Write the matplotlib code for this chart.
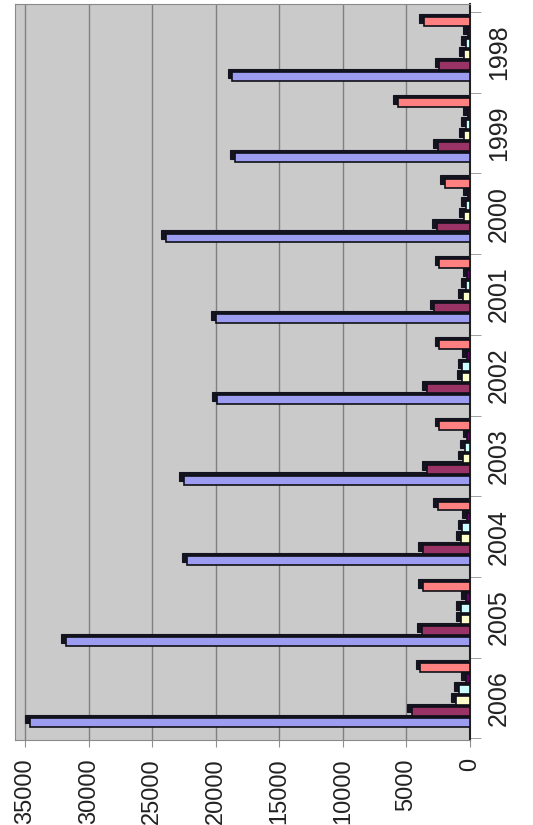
import matplotlib.pyplot as plt
import numpy as np

plt.rcParams['font.family'] = ['Liberation Sans', 'DejaVu Sans']

# categories (top to bottom of the rotated chart)
anos = ['1998', '1999', '2000', '2001', '2002', '2003', '2004', '2005', '2006']

# series values
serie1 = [18700, 18500, 23900, 20000, 19900, 22500, 22300, 31800, 34600]
serie2 = [2400, 2500, 2600, 2800, 3400, 3400, 3700, 3800, 4600]
serie3 = [450, 450, 450, 550, 650, 550, 700, 700, 1100]
serie4 = [350, 350, 300, 350, 600, 400, 600, 700, 900]
serie5 = [150, 150, 150, 200, 250, 200, 250, 300, 350]
serie6 = [3600, 5700, 2000, 2400, 2400, 2400, 2500, 3700, 3900]

series = [serie1, serie2, serie3, serie4, serie5, serie6]
cores = ['#9c9cf0', '#993366', '#ffffcc', '#ccffff', '#660066', '#ff8080']

fig = plt.figure(figsize=(5.33, 8.25), dpi=100)
ax = fig.add_axes([15 / 533, 1 - 740 / 825, 455 / 533, 736 / 825])
ax.set_facecolor('#cacaca')

y = np.arange(len(anos))
passo = 0.136
altura = 0.11

# sombras (efeito 3D) primeiro, depois as faces
for k, vals in enumerate(series):
    pos = y + (2.5 - k) * passo - 0.04
    ax.barh(pos - 0.04, np.array(vals) + 380, height=altura, color='#141420',
            edgecolor='#141420', linewidth=0.8, zorder=2)
for k, vals in enumerate(series):
    pos = y + (2.5 - k) * passo - 0.04
    ax.barh(pos, vals, height=altura, color=cores[k], edgecolor='#101018',
            linewidth=1.2, zorder=3)

ax.set_xlim(35800, 0)
ax.set_ylim(8.52, -0.6)

ax.set_xticks(np.arange(0, 35001, 5000))
ax.set_xticklabels([str(v) for v in range(0, 35001, 5000)], rotation=90,
                   fontsize=17, color='#222222')
ax.grid(axis='x', color='#808080', linewidth=1.0, zorder=1)
ax.set_axisbelow(True)

ax.yaxis.tick_right()
ax.set_yticks(y)
ax.set_yticklabels(anos, rotation=90, va='center', fontsize=18, color='#222222')
ax.set_yticks(np.arange(-0.5, 9, 1), minor=True)
ax.tick_params(axis='y', which='major', length=0, pad=12)
ax.tick_params(axis='y', which='minor', length=8, color='#909090', right=True, left=False)
ax.tick_params(axis='x', which='major', length=5, color='#909090', pad=8)

for lado in ['left', 'top', 'bottom']:
    ax.spines[lado].set_color('#8a8a8a')
ax.spines['right'].set_color('#202020')
ax.spines['right'].set_linewidth(1.5)

fig.savefig('out.png', dpi=100, facecolor='white')
